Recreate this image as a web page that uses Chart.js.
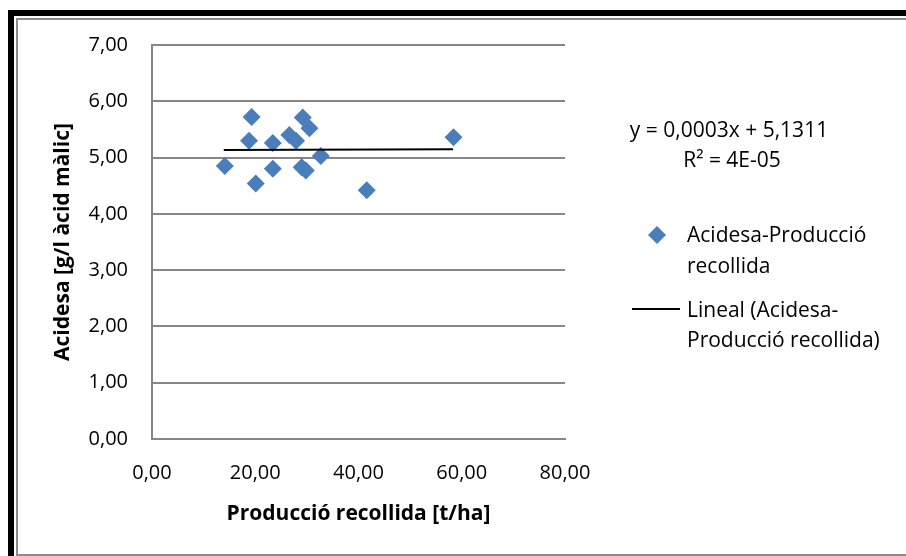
<!DOCTYPE html>
<html>
<head>
<meta charset="utf-8">
<script src="https://cdn.jsdelivr.net/npm/chart.js@4"></script>
<style>
  html, body { margin: 0; padding: 0; background: #fff; }
</style>
</head>
<body>
<canvas id="scatterChart" width="906" height="556"></canvas>
<script>
// values
const produccio = [14.1, 19.3, 18.8, 20.1, 23.4, 23.4, 26.6, 27.9, 29.2, 30.5, 29.0, 29.8, 32.7, 41.6, 58.4];
const acidesa   = [4.85, 5.72, 5.30, 4.54, 5.26, 4.80, 5.40, 5.30, 5.71, 5.52, 4.83, 4.77, 5.03, 4.42, 5.36];

// trend line end points (y = 0,0003x + 5,1311)
const trendX = [13.9, 58.3];
const trendY = [5.135, 5.149];

const xTickLabels = ['0,00', '20,00', '40,00', '60,00', '80,00'];
const yTickLabels = ['0,00', '1,00', '2,00', '3,00', '4,00', '5,00', '6,00', '7,00'];

const seriesName = ['Acidesa-Producció', 'recollida'];
const trendName = ['Lineal (Acidesa-', 'Producció recollida)'];
const equationText = ['y = 0,0003x + 5,1311', 'R² = 4E-05'];

const FONT = 'Open Sans';
const BLUE = '#4a7ebb';
const GRID = '#868686';

// outer frame like the pasted Excel chart
const framePlugin = {
    id: 'frame',
    beforeDraw(chart) {
        const c = chart.ctx;
        c.save();
        c.fillStyle = '#fff';
        c.fillRect(0, 0, chart.width, chart.height);
        c.fillStyle = '#000';
        c.fillRect(8, 10, chart.width - 8, 6);
        c.fillRect(8, 10, 6, chart.height - 10);
        c.fillStyle = '#8c8c8c';
        c.fillRect(16, 18, chart.width - 16, 2);
        c.fillRect(16, 18, 2, chart.height - 18);
        c.fillRect(16, 554, chart.width - 16, 2);
        c.restore();
    }
};

// legend and trend equation on the right
const sideLegend = {
    id: 'sideLegend',
    afterDraw(chart) {
        const c = chart.ctx;
        c.save();
        c.fillStyle = '#000';
        c.font = '21px "' + FONT + '"';
        c.textBaseline = 'alphabetic';
        c.textAlign = 'center';
        c.fillText(equationText[0], 729, 137);
        c.fillText(equationText[1], 732, 167);

        c.textAlign = 'left';
        // diamond marker
        c.fillStyle = BLUE;
        c.beginPath();
        c.moveTo(657, 226);
        c.lineTo(666, 235);
        c.lineTo(657, 244);
        c.lineTo(648, 235);
        c.closePath();
        c.fill();
        c.fillStyle = '#000';
        c.fillText(seriesName[0], 687, 242);
        c.fillText(seriesName[1], 687, 273);

        c.strokeStyle = '#000';
        c.lineWidth = 2;
        c.beginPath();
        c.moveTo(632, 309);
        c.lineTo(680, 309);
        c.stroke();
        c.fillText(trendName[0], 687, 317);
        c.fillText(trendName[1], 687, 347);
        c.restore();
    }
};

const ctx = document.getElementById('scatterChart').getContext('2d');

new Chart(ctx, {
    type: 'scatter',
    data: {
        datasets: [{
            label: seriesName.join(' '),
            data: produccio.map((x, i) => ({ x: x, y: acidesa[i] })),
            backgroundColor: BLUE,
            borderWidth: 0,
            pointStyle: 'rectRot',
            pointRadius: 9,
            order: 2
        }, {
            type: 'line',
            label: trendName.join(' '),
            data: trendX.map((x, i) => ({ x: x, y: trendY[i] })),
            borderColor: '#000',
            borderWidth: 2,
            pointRadius: 0,
            fill: false,
            order: 1
        }]
    },
    options: {
        responsive: false,
        animation: false,
        layout: {
            padding: { top: 45, right: 341, left: 0, bottom: 0 }
        },
        plugins: {
            legend: { display: false },
            tooltip: { enabled: false }
        },
        scales: {
            x: {
                type: 'linear',
                min: 0,
                max: 80,
                ticks: {
                    stepSize: 20,
                    color: '#000',
                    padding: 22,
                    font: { family: FONT, size: 20 },
                    callback: (v, i) => xTickLabels[i]
                },
                grid: { display: false, drawTicks: false },
                border: { color: GRID, width: 2 },
                title: {
                    display: true,
                    text: 'Producció recollida [t/ha]',
                    color: '#000',
                    font: { family: FONT, size: 21, weight: 'bold' },
                    padding: { top: 0, bottom: 29 }
                },
                afterFit: (scale) => { scale.height = 117; }
            },
            y: {
                min: 0,
                max: 7,
                ticks: {
                    stepSize: 1,
                    color: '#000',
                    padding: 24,
                    font: { family: FONT, size: 20 },
                    callback: (v, i) => yTickLabels[i]
                },
                grid: { color: GRID, lineWidth: 2, drawTicks: false },
                border: { color: GRID, width: 2 },
                title: {
                    display: true,
                    text: 'Acidesa [g/l àcid màlic]',
                    color: '#000',
                    font: { family: FONT, size: 21, weight: 'bold' },
                    padding: { top: 50, bottom: 0 }
                },
                afterFit: (scale) => { scale.width = 152; }
            }
        }
    },
    plugins: [framePlugin, sideLegend]
});
</script>
</body>
</html>
